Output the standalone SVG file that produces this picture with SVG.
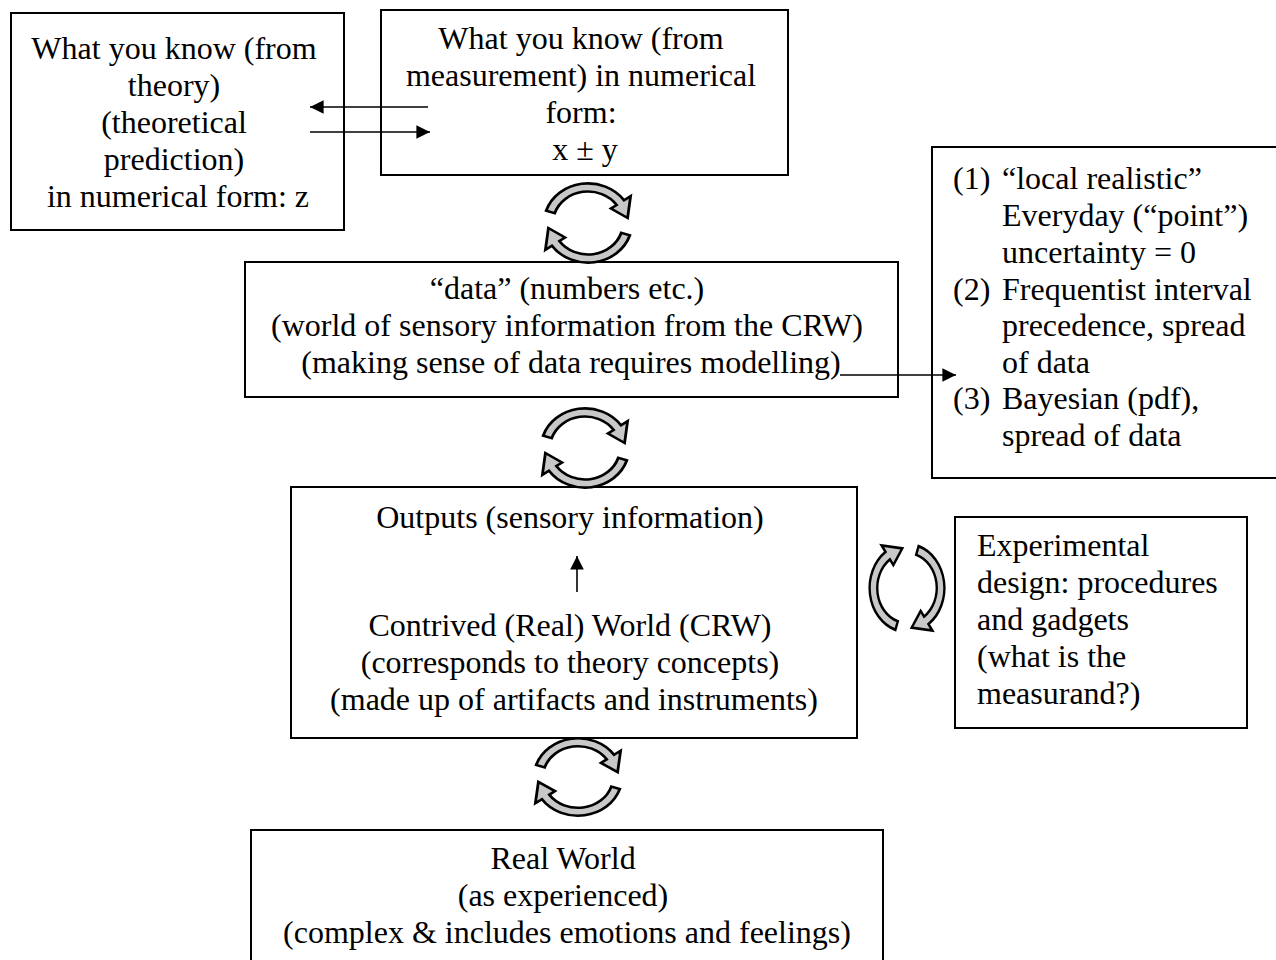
<svg xmlns="http://www.w3.org/2000/svg" width="1276" height="960" viewBox="0 0 1276 960">
  <style>
    .box { fill: #ffffff; stroke: #000000; stroke-width: 2; }
    .t { font-family: "Liberation Serif", "Times New Roman", serif; font-size: 32px; fill: #000000; }
    .c { text-anchor: middle; }
    .conn { stroke: #000000; stroke-width: 1.6; fill: none; }
    .cyc { fill: #c8c8c8; stroke: #000000; stroke-width: 2.8; stroke-linejoin: miter; }
  </style>
  <defs>
    <marker id="head" viewBox="0 0 10 10" refX="10" refY="5" markerWidth="10" markerHeight="8.5" markerUnits="strokeWidth" orient="auto">
      <path d="M0,0 L10,5 L0,10 Z" fill="#000000"/>
    </marker>
    <!-- pair of curved block arrows forming a cycle -->
    <path id="bend" class="cyc" d="M -41.85 -13.60 A 44 44 0 0 1 36.04 -25.24 L 42.60 -29.83 L 39.61 -5.57 L 22.94 -16.06 L 28.67 -20.08 A 35 35 0 0 0 -33.29 -10.82 Z"/>
    <g id="cycle">
      <use href="#bend"/>
      <use href="#bend" transform="rotate(180)"/>
    </g>
  </defs>

  <rect width="1276" height="960" fill="#ffffff"/>

  <g id="theory">
    <rect class="box" x="11" y="13" width="333" height="217"/>
    <text class="t c">
      <tspan x="178" y="59">What you know (from</tspan>
      <tspan x="178" y="96">theory)</tspan>
      <tspan x="178" y="133">(theoretical</tspan>
      <tspan x="178" y="170">prediction)</tspan>
      <tspan x="178" y="207">in numerical form: z</tspan>
    </text>
  </g>

  <g id="measurement">
    <rect class="box" x="381" y="10" width="407" height="165"/>
    <text class="t c">
      <tspan x="585" y="49">What you know (from</tspan>
      <tspan x="585" y="86">measurement) in numerical</tspan>
      <tspan x="585" y="123">form:</tspan>
      <tspan x="585" y="160">x ± y</tspan>
    </text>
  </g>

  <g id="data">
    <rect class="box" x="245" y="262" width="653" height="135"/>
    <text class="t c">
      <tspan x="571" y="299">“data” (numbers etc.)</tspan>
      <tspan x="571" y="336">(world of sensory information from the CRW)</tspan>
      <tspan x="571" y="373">(making sense of data requires modelling)</tspan>
    </text>
  </g>

  <g id="uncertainty">
    <rect class="box" x="932" y="147" width="360" height="331"/>
    <text class="t">
      <tspan x="953" y="189">(1)</tspan><tspan x="1002" y="189">“local realistic”</tspan>
      <tspan x="1002" y="226">Everyday (“point”)</tspan>
      <tspan x="1002" y="263">uncertainty = 0</tspan>
      <tspan x="953" y="300">(2)</tspan><tspan x="1002" y="300">Frequentist interval</tspan>
      <tspan x="1002" y="336">precedence, spread</tspan>
      <tspan x="1002" y="373">of data</tspan>
      <tspan x="953" y="409">(3)</tspan><tspan x="1002" y="409">Bayesian (pdf),</tspan>
      <tspan x="1002" y="446">spread of data</tspan>
    </text>
  </g>

  <g id="crw">
    <rect class="box" x="291" y="487" width="566" height="251"/>
    <text class="t c">
      <tspan x="574" y="528">Outputs (sensory information)</tspan>
      <tspan x="574" y="636">Contrived (Real) World (CRW)</tspan>
      <tspan x="574" y="673">(corresponds to theory concepts)</tspan>
      <tspan x="574" y="710">(made up of artifacts and instruments)</tspan>
    </text>
  </g>

  <g id="design">
    <rect class="box" x="955" y="517" width="292" height="211"/>
    <text class="t">
      <tspan x="977" y="556">Experimental</tspan>
      <tspan x="977" y="593">design: procedures</tspan>
      <tspan x="977" y="630">and gadgets</tspan>
      <tspan x="977" y="667">(what is the</tspan>
      <tspan x="977" y="704">measurand?)</tspan>
    </text>
  </g>

  <g id="real-world">
    <rect class="box" x="251" y="830" width="632" height="150"/>
    <text class="t c">
      <tspan x="567" y="869">Real World</tspan>
      <tspan x="567" y="906">(as experienced)</tspan>
      <tspan x="567" y="943">(complex &amp; includes emotions and feelings)</tspan>
    </text>
  </g>

  <g id="connectors">
    <line class="conn" x1="428" y1="107" x2="310" y2="107" marker-end="url(#head)"/>
    <line class="conn" x1="310" y1="132" x2="430" y2="132" marker-end="url(#head)"/>
    <line class="conn" x1="840" y1="375" x2="956" y2="375" marker-end="url(#head)"/>
    <line class="conn" x1="577" y1="592" x2="577" y2="556" marker-end="url(#head)"/>
    <use href="#cycle" transform="translate(588,223) scale(1,0.9)"/>
    <use href="#cycle" transform="translate(585,448) scale(1,0.9)"/>
    <use href="#cycle" transform="translate(578,777) scale(1,0.88)"/>
    <use href="#cycle" transform="translate(907,588) rotate(90) scale(1,0.85)"/>
  </g>
</svg>
